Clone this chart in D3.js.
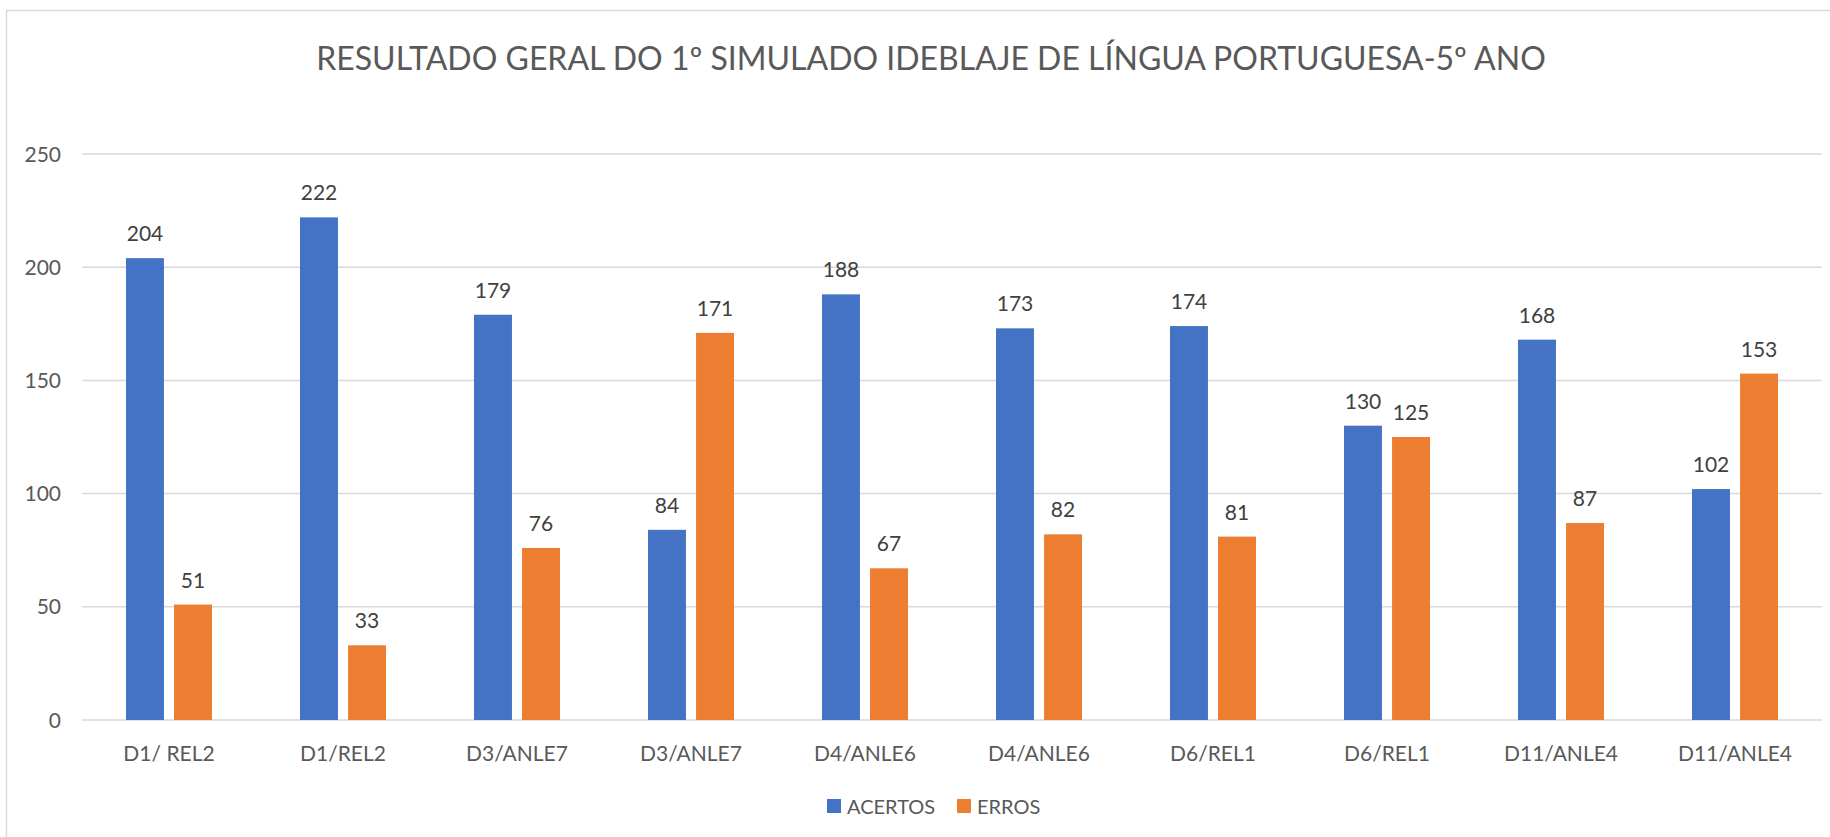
<!DOCTYPE html>
<html>
<head>
<meta charset="utf-8">
<script src="https://cdn.jsdelivr.net/npm/d3@7"></script>
<style>
  html, body { margin: 0; padding: 0; background: #fff; }
  svg { display: block; font-family: Lato, "Open Sans", sans-serif; }
</style>
</head>
<body>
<svg id="chart"></svg>
<script>
const TITLE = 'RESULTADO GERAL DO 1º SIMULADO IDEBLAJE DE LÍNGUA PORTUGUESA-5º ANO';
const categories = ['D1/ REL2', 'D1/REL2', 'D3/ANLE7', 'D3/ANLE7', 'D4/ANLE6', 'D4/ANLE6', 'D6/REL1', 'D6/REL1', 'D11/ANLE4', 'D11/ANLE4'];
const seriesNames = ['ACERTOS', 'ERROS'];
const acertos = [204, 222, 179, 84, 188, 173, 174, 130, 168, 102];
const erros = [51, 33, 76, 171, 67, 82, 81, 125, 87, 153];
const yTicks = [0, 50, 100, 150, 200, 250];
const colors = ['#4472C4', '#ED7D31'];

const width = 1830;
const height = 837;
const margin = { top: 154, right: 8, bottom: 117, left: 82 };

const svg = d3.select('#chart')
    .attr('width', width)
    .attr('height', height);

// moldura do gráfico
svg.append('rect')
    .attr('x', 6.5)
    .attr('y', 10.5)
    .attr('width', width + 20)
    .attr('height', height + 20)
    .attr('fill', '#fff')
    .attr('stroke', '#d9d9d9')
    .attr('stroke-width', 1.5);

// título
svg.append('text')
    .attr('x', 931)
    .attr('y', 70)
    .attr('text-anchor', 'middle')
    .style('font-size', '32px')
    .style('fill', '#595959')
    .text(TITLE);

const x0 = d3.scaleBand()
    .domain(d3.range(categories.length))
    .range([margin.left, width - margin.right])
    .padding(0);

const x1 = d3.scaleBand()
    .domain(seriesNames)
    .range([44, x0.bandwidth() - 44])
    .paddingInner(0.21)
    .paddingOuter(0);

const y = d3.scaleLinear()
    .domain([0, 250])
    .range([height - margin.bottom, margin.top]);

// linhas de grade
svg.append('g')
    .selectAll('line')
    .data(yTicks)
    .enter().append('line')
    .attr('x1', margin.left)
    .attr('x2', width - margin.right)
    .attr('y1', d => y(d))
    .attr('y2', d => y(d))
    .attr('stroke', '#d9d9d9')
    .attr('stroke-width', 1.5);

// rótulos do eixo Y
svg.append('g')
    .selectAll('text')
    .data(yTicks)
    .enter().append('text')
    .attr('x', 61)
    .attr('y', d => y(d))
    .attr('dy', '0.36em')
    .attr('text-anchor', 'end')
    .style('font-size', '21px')
    .style('fill', '#595959')
    .text(d => d);

const rows = categories.map((c, i) => ({ i, values: [acertos[i], erros[i]] }));

const groups = svg.append('g')
    .selectAll('g')
    .data(rows)
    .enter().append('g')
    .attr('transform', d => `translate(${x0(d.i)},0)`);

const bars = groups.selectAll('g.bar')
    .data(d => d.values.map((v, k) => ({ name: seriesNames[k], value: v, k })))
    .enter().append('g')
    .attr('class', 'bar');

bars.append('rect')
    .attr('x', d => x1(d.name))
    .attr('y', d => y(d.value))
    .attr('width', x1.bandwidth())
    .attr('height', d => y(0) - y(d.value))
    .attr('fill', d => colors[d.k]);

// rótulos de dados
bars.append('text')
    .attr('x', d => x1(d.name) + x1.bandwidth() / 2)
    .attr('y', d => y(d.value) - 17)
    .attr('text-anchor', 'middle')
    .style('font-size', '21px')
    .style('fill', '#404040')
    .text(d => d.value);

// rótulos do eixo X
svg.append('g')
    .selectAll('text')
    .data(categories)
    .enter().append('text')
    .attr('x', (d, i) => x0(i) + x0.bandwidth() / 2)
    .attr('y', 761)
    .attr('text-anchor', 'middle')
    .style('font-size', '21px')
    .style('fill', '#595959')
    .text(d => d);

// legenda
const legendX = [827, 957];
const legend = svg.append('g')
    .selectAll('g')
    .data(seriesNames)
    .enter().append('g')
    .attr('transform', (d, i) => `translate(${legendX[i]},799)`);

legend.append('rect')
    .attr('width', 14)
    .attr('height', 14)
    .attr('fill', (d, i) => colors[i]);

legend.append('text')
    .attr('x', 20)
    .attr('y', 15)
    .style('font-size', '20px')
    .style('fill', '#595959')
    .text(d => d);
</script>
</body>
</html>
